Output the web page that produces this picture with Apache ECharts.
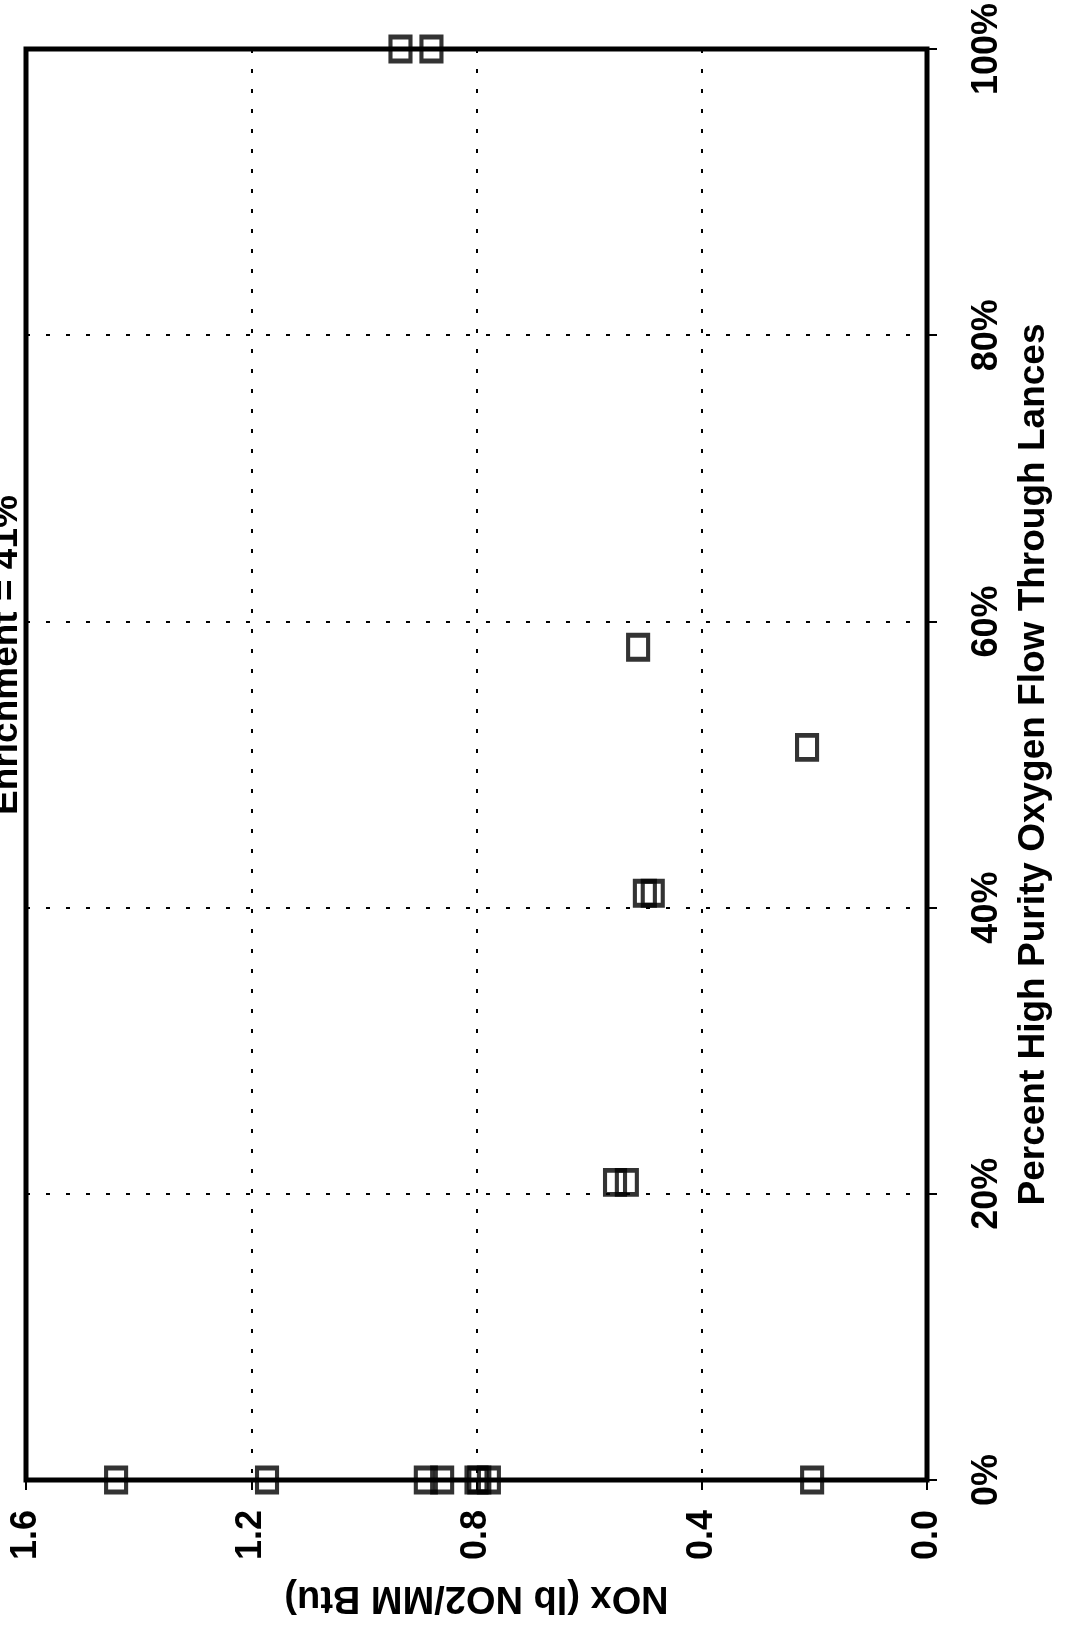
<!DOCTYPE html>
<html>
<head>
<meta charset="utf-8">
<style>
  html, body { margin: 0; padding: 0; background: #fff; }
  #chart { width: 1073px; height: 1628px; }
</style>
<script src="https://cdn.jsdelivr.net/npm/echarts@6/dist/echarts.min.js"></script>
</head>
<body>
<div id="chart"></div>
<script>
// Percent of high purity oxygen flowing through the lances, per test point
const oxygenFlowPct = [100, 100, 58.2, 51.2, 41, 41, 20.8, 20.8, 0, 0, 0, 0, 0, 0, 0, 0];
// Measured NOx (lb NO2/MM Btu), same order
const noxValues = [0.935, 0.88, 0.513, 0.213, 0.501, 0.487, 0.554, 0.533, 1.44, 1.172, 0.89, 0.861, 0.80, 0.795, 0.778, 0.204];

const noxTicks = { min: 0, max: 1.6, interval: 0.4 };
const pctTicks = { min: 0, max: 100, interval: 20 };

const titleText = 'Enrichment = 41%';
const noxAxisName = 'NOx (lb NO2/MM Btu)';
const pctAxisName = 'Percent High Purity Oxygen Flow Through Lances';

const FONT = '"Liberation Sans", Arial, Helvetica, sans-serif';

const points = noxValues.map((v, i) => [v, oxygenFlowPct[i]]);

const chart = echarts.init(document.getElementById('chart'), null, { renderer: 'canvas' });

const dotted = { color: '#000', width: 2, type: [4, 16] };

chart.setOption({
  backgroundColor: '#fff',
  animation: false,
  grid: {
    left: 26, top: 49, width: 901, height: 1431,
    show: true, borderColor: '#000', borderWidth: 5, backgroundColor: 'transparent'
  },
  xAxis: {
    type: 'value',
    position: 'bottom',
    inverse: true,
    min: noxTicks.min, max: noxTicks.max, interval: noxTicks.interval,
    axisLine: { show: false },
    axisTick: { show: true, length: 10, lineStyle: { color: '#000', width: 2 } },
    splitLine: { show: true, lineStyle: dotted },
    axisLabel: {
      rotate: 90, margin: 30,
      color: '#000', fontFamily: FONT, fontWeight: 'bold', fontSize: 36,
      formatter: v => v.toFixed(1)
    },
    name: noxAxisName,
    nameLocation: 'middle',
    nameRotate: 180,
    nameGap: 98,
    nameTextStyle: { color: '#000', fontFamily: FONT, fontWeight: 'bold', fontSize: 38 }
  },
  yAxis: {
    type: 'value',
    position: 'right',
    min: pctTicks.min, max: pctTicks.max, interval: pctTicks.interval,
    axisLine: { show: false },
    axisTick: { show: true, length: 10, lineStyle: { color: '#000', width: 2 } },
    splitLine: { show: true, lineStyle: dotted },
    axisLabel: {
      rotate: 90, margin: 42,
      color: '#000', fontFamily: FONT, fontWeight: 'bold', fontSize: 36,
      formatter: '{value}%'
    },
    name: pctAxisName,
    nameLocation: 'middle',
    nameRotate: 90,
    nameGap: 88,
    nameTextStyle: { color: '#000', fontFamily: FONT, fontWeight: 'bold', fontSize: 37 }
  },
  graphic: [{
    type: 'text',
    x: 7, y: 655,
    rotation: Math.PI / 2,
    style: {
      text: titleText,
      fill: '#000',
      font: 'bold 37px ' + FONT,
      align: 'center',
      verticalAlign: 'middle'
    }
  }],
  series: [{
    type: 'scatter',
    data: points,
    symbol: 'rect',
    symbolSize: [20, 24],
    clip: false,
    itemStyle: { color: 'transparent', borderColor: '#000', borderWidth: 4.5 },
    z: 5
  }]
});
</script>
</body>
</html>
